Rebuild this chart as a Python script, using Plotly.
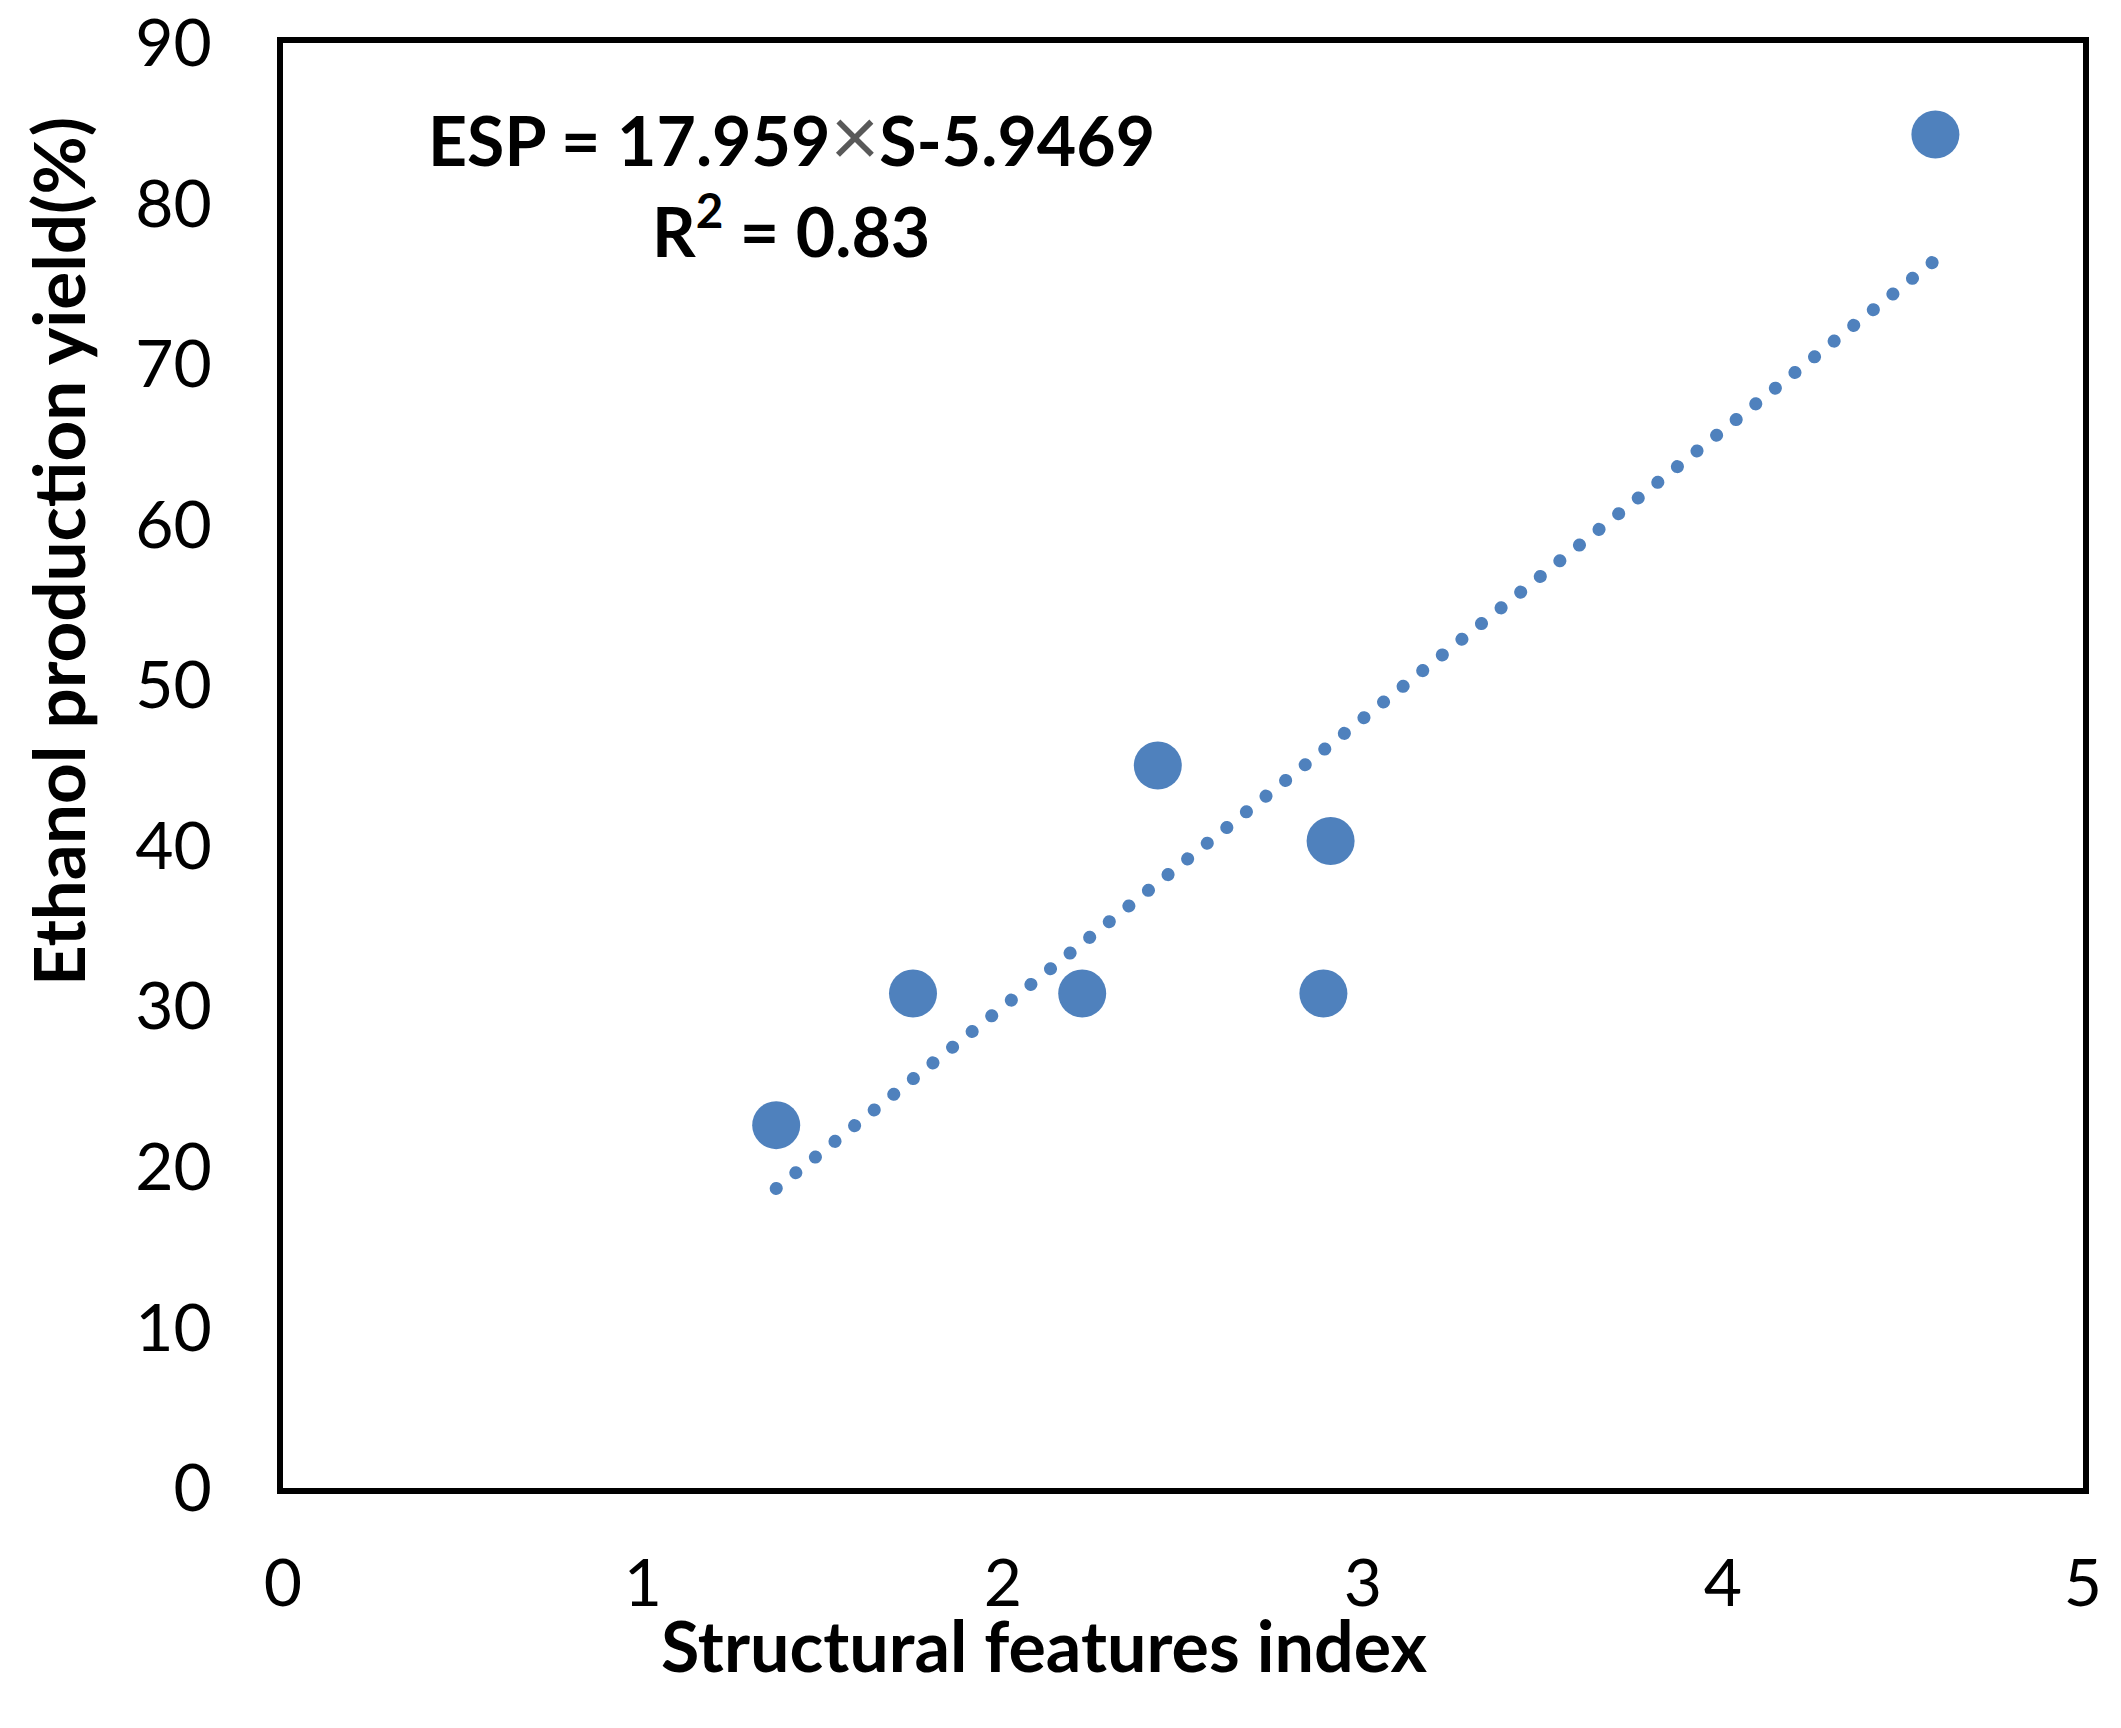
import plotly.graph_objects as go

# structural features index (S) and ethanol production yield (%)
sfi = [1.37, 1.75, 2.22, 2.43, 2.89, 2.91, 4.59]
yield_pct = [22.6, 30.8, 30.8, 45.0, 30.8, 40.3, 84.3]

# linear fit reported on the chart
slope = 17.959
intercept = -5.9469
r2 = 0.83

x_ticks = [0, 1, 2, 3, 4, 5]
y_ticks = [0, 10, 20, 30, 40, 50, 60, 70, 80, 90]

blue = "#4F81BD"
font_fam = "Lato, 'Open Sans', sans-serif"

W, H = 2121, 1728
ML, MR, MT, MB = 283, 38, 43, 240
PW, PH = W - ML - MR, H - MT - MB


def px_to_paper(px, py):
    return (px - ML) / PW, (H - MB - py) / PH


trend_x = [min(sfi), max(sfi)]
trend_y = [slope * v + intercept for v in trend_x]

fig = go.Figure()

fig.add_trace(go.Scatter(
    x=trend_x, y=trend_y, mode="lines",
    line=dict(color=blue, width=13, dash="1px,24px"),
    hoverinfo="skip", showlegend=False
))

fig.add_trace(go.Scatter(
    x=sfi, y=yield_pct, mode="markers",
    marker=dict(color=blue, size=48, line=dict(width=0)),
    showlegend=False
))

eq_x, eq_y = px_to_paper(791, 134)
fig.add_annotation(
    x=eq_x, y=eq_y, xref="paper", yref="paper", showarrow=False,
    xanchor="center", yanchor="middle",
    text="<b>ESP = %.3f</b><span style='color:#595959;font-weight:400;font-size:84px'>×</span><b>S-%.4f</b>"
         % (slope, -intercept),
    font=dict(family=font_fam, size=68, color="black")
)
r_x, r_y = px_to_paper(791, 226)
fig.add_annotation(
    x=r_x, y=r_y, xref="paper", yref="paper", showarrow=False,
    xanchor="center", yanchor="middle",
    text="<b>R<sup>2</sup> = %.2f</b>" % r2,
    font=dict(family=font_fam, size=68, color="black")
)

yt_x, yt_y = px_to_paper(57, 552)
fig.add_annotation(
    x=yt_x, y=yt_y, xref="paper", yref="paper", showarrow=False,
    xanchor="center", yanchor="middle",
    text="<b>Ethanol production yield(%)</b>", textangle=-90,
    font=dict(family=font_fam, size=71, color="black")
)

xt_x, xt_y = px_to_paper(1044, 1645)
fig.add_annotation(
    x=xt_x, y=xt_y, xref="paper", yref="paper", showarrow=False,
    xanchor="center", yanchor="middle",
    text="<b>Structural features index</b>",
    font=dict(family=font_fam, size=70, color="black")
)

fig.update_xaxes(
    range=[0, 5], tickvals=x_ticks, showgrid=False, zeroline=False,
    showline=True, linecolor="black", linewidth=6, mirror=True,
    ticks="", ticklabelstandoff=33, automargin=False,
    tickfont=dict(family=font_fam, size=66, color="black")
)
fig.update_yaxes(
    range=[0, 90], tickvals=y_ticks, showgrid=False, zeroline=False,
    showline=True, linecolor="black", linewidth=6, mirror=True,
    ticks="", ticklabelstandoff=52, automargin=False,
    tickfont=dict(family=font_fam, size=66, color="black")
)

fig.update_layout(
    width=W, height=H,
    plot_bgcolor="white", paper_bgcolor="white",
    margin=dict(l=ML, r=MR, t=MT, b=MB, autoexpand=False),
)

# no page margin; round the trendline dots like the original chart
post = """
document.body.style.margin = '0';
var gd = document.querySelector('.plotly-graph-div');
function roundDots() {
  var p = gd.querySelector('.scatterlayer .trace path.js-line');
  if (p) { p.style.strokeLinecap = 'round'; p.style.strokeDasharray = '0.1px,25px'; }
}
roundDots();
gd.on('plotly_afterplot', roundDots);
"""

fig.write_html("out.html", post_script=post, config={"displayModeBar": False})
